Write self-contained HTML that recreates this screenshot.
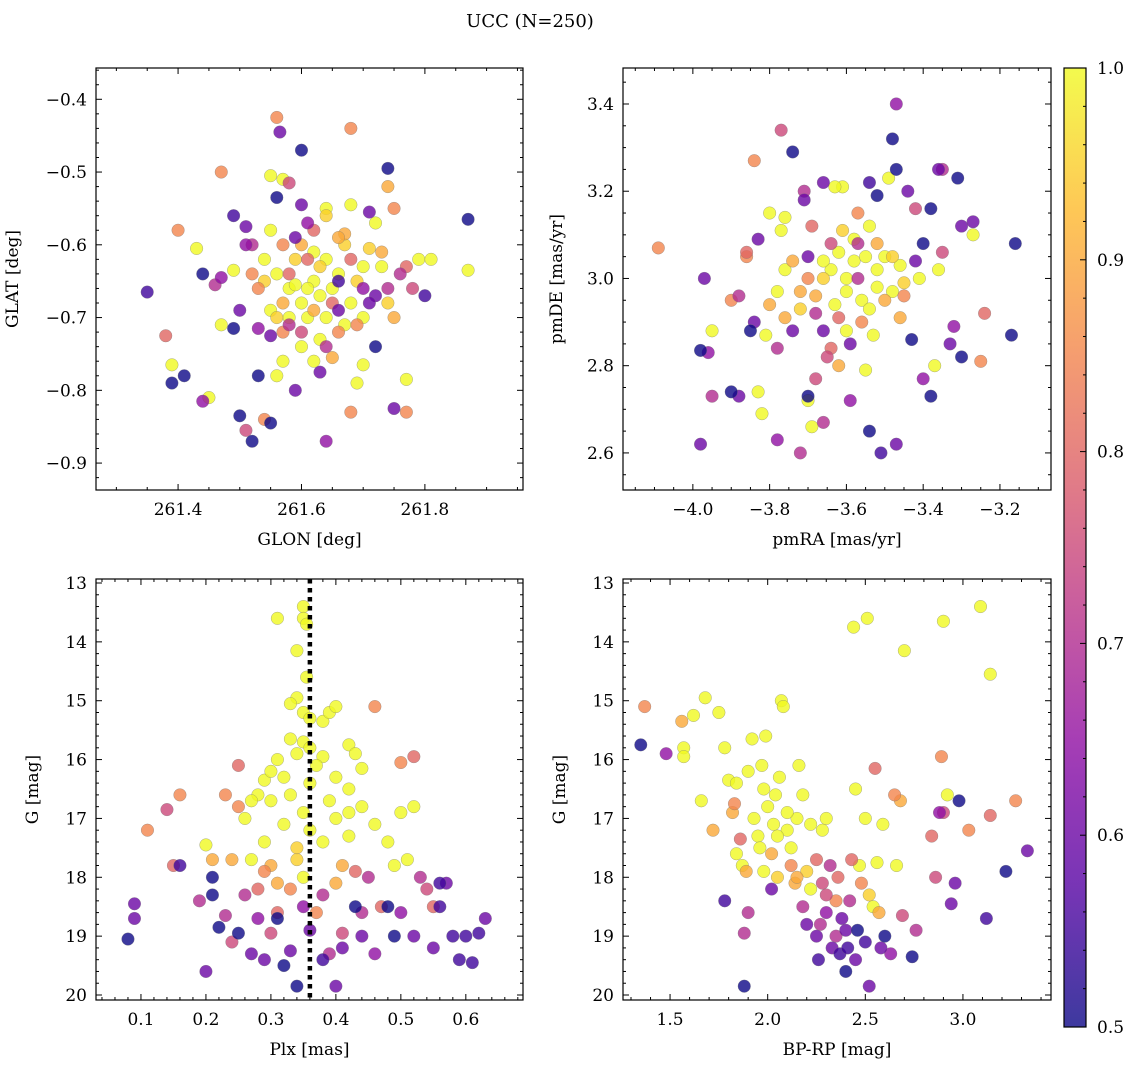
<!DOCTYPE html>
<html><head><meta charset="utf-8"><style>
body{margin:0;background:#fff;}
svg text{font-family:"DejaVu Serif","Liberation Serif",serif;fill:#000;}
</style></head><body>
<svg id="fig" width="1136" height="1067" xmlns="http://www.w3.org/2000/svg">
<text x="530" y="27" font-size="18" text-anchor="middle">UCC (N=250)</text>
</svg>
<script>
// ---- Panel 1: GLON / GLAT ----
const p1x=[261.35,261.38,261.39,261.39,261.41,261.40,261.43,261.44,261.44,261.45,261.46,261.47,261.47,261.47,261.49,261.49,261.49,261.50,261.50,261.51,261.51,261.51,261.52,261.52,261.53,261.53,261.54,261.54,261.55,261.55,261.55,261.56,261.565,261.56,261.56,261.57,261.57,261.58,261.58,261.59,261.59,261.60,261.60,261.61,261.61,261.62,261.63,261.64,261.64,261.64,261.65,261.66,261.66,261.67,261.67,261.68,261.68,261.68,261.69,261.69,261.70,261.70,261.71,261.71,261.72,261.72,261.72,261.73,261.73,261.74,261.74,261.74,261.75,261.75,261.75,261.76,261.77,261.77,261.77,261.78,261.79,261.80,261.81,261.87,261.87,
261.56,261.58,261.60,261.62,261.63,261.61,261.59,261.64,261.65,261.66,261.60,261.62,261.57,261.58,261.64,261.66,261.63,261.60,261.57,261.55,261.54,261.53,261.68,261.69,261.70,261.67,261.61,261.63,261.59,261.62,261.65,261.60,261.57,261.55,261.52,261.71,261.68,261.58,261.64,261.56,261.66,261.70,261.74,261.62];
const p1y=[-0.665,-0.725,-0.765,-0.79,-0.78,-0.58,-0.605,-0.64,-0.815,-0.81,-0.655,-0.645,-0.50,-0.71,-0.56,-0.635,-0.715,-0.69,-0.835,-0.855,-0.60,-0.575,-0.87,-0.60,-0.715,-0.78,-0.84,-0.65,-0.505,-0.845,-0.725,-0.425,-0.445,-0.535,-0.78,-0.51,-0.76,-0.515,-0.71,-0.80,-0.59,-0.47,-0.545,-0.62,-0.57,-0.76,-0.775,-0.87,-0.55,-0.56,-0.755,-0.65,-0.69,-0.60,-0.585,-0.83,-0.44,-0.545,-0.79,-0.71,-0.66,-0.765,-0.555,-0.605,-0.67,-0.74,-0.57,-0.63,-0.61,-0.495,-0.52,-0.66,-0.70,-0.825,-0.55,-0.64,-0.785,-0.83,-0.63,-0.66,-0.62,-0.67,-0.62,-0.565,-0.635,
-0.64,-0.66,-0.68,-0.65,-0.67,-0.70,-0.62,-0.62,-0.66,-0.64,-0.60,-0.61,-0.68,-0.70,-0.70,-0.72,-0.73,-0.74,-0.72,-0.69,-0.62,-0.66,-0.68,-0.65,-0.63,-0.71,-0.66,-0.63,-0.655,-0.69,-0.68,-0.72,-0.60,-0.58,-0.64,-0.68,-0.62,-0.64,-0.74,-0.70,-0.59,-0.70,-0.68,-0.58];
const p1c=[0.55,0.8,1,0.5,0.5,0.85,1,0.5,0.65,1,0.7,0.65,0.85,1,0.55,1,0.5,0.6,0.5,0.75,0.65,0.6,0.5,0.7,0.65,0.5,0.85,0.95,1,0.5,0.6,0.85,0.6,0.5,1,1,1,0.75,0.7,0.6,0.6,0.5,0.6,0.8,0.65,1,0.6,0.65,1,0.95,0.9,0.55,0.6,0.95,0.9,0.85,0.85,1,1,0.85,0.65,1,0.6,0.95,0.6,0.5,1,1,0.9,0.5,0.9,0.7,0.9,0.6,0.85,0.7,1,0.85,0.8,0.75,1,0.55,1,0.5,1,
1,1,1,1,1,1,0.95,1,1,1,0.9,1,0.9,1,1,0.85,1,1,0.85,1,1,0.85,1,0.95,1,1,1,0.95,1,0.9,0.8,0.75,0.85,1,0.85,0.6,0.8,0.8,0.7,0.95,0.9,1,0.95,0.8];
// ---- Panel 2: pmRA / pmDE ----
const p2x=[-4.09,-3.97,-3.98,-3.96,-3.95,-3.95,-3.98,-3.90,-3.88,-3.86,-3.86,-3.84,-3.83,-3.84,-3.85,-3.82,-3.83,-3.81,-3.80,-3.78,-3.77,-3.76,-3.74,-3.72,-3.70,-3.70,-3.69,-3.68,-3.66,-3.66,-3.61,-3.63,-3.59,-3.54,-3.51,-3.52,-3.47,-3.48,-3.47,-3.47,-3.44,-3.42,-3.40,-3.38,-3.36,-3.35,-3.31,-3.30,-3.27,-3.27,-3.24,-3.25,-3.17,-3.16,-3.30,-3.33,-3.32,-3.35,-3.37,-3.38,-3.40,-3.43,-3.46,-3.42,-3.41,-3.45,-3.36,-3.49,-3.57,-3.55,-3.59,-3.62,-3.64,-3.65,-3.72,-3.74,-3.76,-3.78,-3.80,-3.78,-3.74,-3.90,-3.88,-3.77,-3.76,-3.69,-3.71,-3.71,-3.54,-3.57,
-3.6,-3.58,-3.55,-3.52,-3.50,-3.62,-3.64,-3.66,-3.6,-3.56,-3.52,-3.48,-3.54,-3.63,-3.68,-3.66,-3.58,-3.61,-3.5,-3.46,-3.7,-3.68,-3.56,-3.6,-3.53,-3.66,-3.72,-3.62,-3.57,-3.52,-3.48,-3.7,-3.64,-3.54,-3.45];
const p2y=[3.07,3.0,2.835,2.83,2.88,2.73,2.62,2.74,2.73,3.06,3.05,3.27,3.09,2.90,2.88,2.69,2.74,2.87,3.15,2.63,3.34,2.91,3.29,2.60,2.73,2.72,2.66,2.77,2.67,3.22,3.21,3.21,2.72,2.65,2.60,3.19,3.40,3.32,3.25,2.62,3.20,3.16,3.08,3.16,3.25,3.25,3.23,3.12,3.13,3.10,2.92,2.81,2.87,3.08,2.82,2.85,2.89,3.06,2.80,2.73,2.77,2.86,2.91,3.04,3.00,2.96,3.02,3.23,3.15,2.79,2.85,2.80,2.84,2.82,2.97,3.04,3.02,2.97,2.94,2.84,2.88,2.95,2.96,3.11,3.14,3.12,3.18,3.20,3.22,3.08,
3.0,3.04,3.05,3.02,3.05,3.06,3.02,3.0,2.97,2.95,2.98,2.97,2.93,2.94,2.96,3.04,3.09,3.11,2.95,3.03,3.0,2.92,2.9,2.88,2.87,2.88,2.93,2.91,3.0,3.08,3.05,3.05,3.08,3.12,2.99];
const p2c=[0.85,0.6,0.5,0.65,1,0.7,0.6,0.5,0.6,0.8,0.85,0.85,0.6,0.6,0.5,1,1,1,1,0.65,0.75,0.9,0.5,0.7,0.5,1,1,0.75,0.7,0.6,1,1,0.65,0.5,0.55,0.5,0.65,0.5,0.5,0.6,0.6,0.75,0.5,0.5,0.6,0.7,0.5,0.6,0.6,1,0.8,0.85,0.5,0.5,0.5,0.6,0.65,0.75,1,0.5,0.65,0.5,0.9,0.6,1,0.85,1,1,0.85,1,0.6,0.9,0.8,0.75,0.9,0.9,1,1,0.9,0.7,0.6,0.85,0.7,1,1,0.8,0.6,0.7,0.55,0.7,
1,1,1,1,1,1,1,0.95,1,1,1,1,1,1,0.9,1,1,0.95,0.9,1,0.85,0.7,0.85,1,1,0.6,0.95,0.8,0.7,0.9,0.95,0.6,0.75,1,0.95];
// ---- Panel 3: Plx / G ----
const p3x=[0.35,0.35,0.355,0.34,0.355,0.34,0.33,0.35,0.36,0.38,0.39,0.40,0.31,0.46,0.33,0.35,0.34,0.36,0.42,0.43,0.38,0.31,0.29,0.30,0.32,0.36,0.40,0.42,0.44,0.37,0.33,0.28,0.27,0.30,0.35,0.39,0.42,0.44,0.40,0.36,0.32,0.25,0.23,0.26,0.29,0.34,0.38,0.42,0.46,0.48,0.50,0.52,0.50,0.52,0.20,0.21,0.24,0.27,0.30,0.31,0.33,0.35,0.40,0.43,0.45,0.49,0.51,0.53,0.54,0.55,0.56,0.57,0.15,0.16,0.14,0.11,0.16,0.19,0.09,0.09,0.08,0.20,0.21,0.21,0.22,0.23,0.24,0.25,0.26,0.27,0.28,0.29,0.30,0.31,0.32,0.33,0.34,0.35,0.36,0.38,0.39,0.40,0.41,0.41,0.43,0.44,0.46,0.48,0.49,0.50,0.52,0.55,0.56,0.58,0.59,0.60,0.61,0.62,0.63,0.25,0.47,0.37,0.31,0.28,0.44,0.38,0.41,0.34,0.29];
const p3y=[13.4,13.6,13.7,14.15,14.6,14.95,15.05,15.2,15.3,15.35,15.2,15.1,13.6,15.1,15.65,15.7,15.9,15.8,15.75,15.9,15.95,16.0,16.35,16.2,16.3,16.4,16.3,16.5,16.15,16.1,16.6,16.6,16.7,16.7,16.9,16.7,16.9,16.8,17.0,17.2,17.1,16.8,16.6,17.0,17.4,17.5,17.4,17.3,17.1,17.4,16.9,16.8,16.05,15.95,17.45,17.7,17.7,17.7,17.8,18.1,18.2,18.0,18.1,17.9,18.0,17.8,17.7,18.0,18.2,18.5,18.1,18.1,17.8,16.6,16.85,17.2,17.8,18.4,18.45,18.7,19.05,19.6,18.3,18.0,18.85,18.65,19.1,18.95,18.3,19.3,18.7,19.4,18.95,18.7,19.5,19.25,19.85,18.5,18.9,19.4,19.3,19.85,18.95,19.2,18.5,19.0,19.3,18.5,19.0,18.6,19.0,19.2,18.5,19.0,19.4,19.0,19.45,18.95,18.7,16.1,18.5,18.6,18.6,18.2,18.6,18.3,17.8,17.7,17.9];
const p3c=[1,1,1,1,1,1,1,1,1,1,1,1,1,0.85,1,1,1,1,1,1,1,1,1,1,1,1,1,1,1,1,1,1,1,1,1,1,1,1,1,1,1,0.85,0.85,1,1,0.95,1,1,1,1,1,1,0.85,0.8,1,0.9,0.9,1,0.9,0.9,0.85,1,0.9,0.8,0.7,1,1,0.7,0.75,0.8,0.55,0.6,0.8,0.85,0.75,0.85,0.55,0.7,0.6,0.6,0.5,0.6,0.5,0.5,0.5,0.7,0.75,0.5,0.7,0.6,0.65,0.6,0.75,0.5,0.5,0.6,0.5,0.65,0.6,0.55,0.7,0.6,0.75,0.6,0.5,0.6,0.65,0.5,0.5,0.65,0.6,0.6,0.55,0.55,0.55,0.55,0.55,0.55,0.6,0.8,0.8,0.85,0.8,0.8,0.7,0.7,0.9,0.95,0.85];
// ---- Panel 4: BP-RP / G ----
const p4x=[1.35,1.37,1.48,1.56,1.57,1.57,1.62,1.68,1.66,1.72,1.75,1.78,1.80,1.78,1.82,1.83,1.84,1.84,1.86,1.87,1.89,1.88,1.90,1.88,1.90,1.92,1.93,1.95,1.96,1.97,1.98,1.99,2.00,2.02,2.02,2.03,2.04,2.05,2.06,2.07,2.08,2.10,2.12,2.14,2.15,2.16,2.18,2.18,2.20,2.22,2.22,2.25,2.25,2.26,2.27,2.28,2.28,2.30,2.30,2.32,2.33,2.35,2.36,2.37,2.38,2.40,2.41,2.42,2.43,2.44,2.45,2.45,2.46,2.47,2.48,2.50,2.50,2.51,2.52,2.52,2.54,2.55,2.56,2.57,2.58,2.59,2.60,2.63,2.65,2.66,2.68,2.69,2.70,2.74,2.76,2.84,2.86,2.88,2.89,2.90,2.90,2.92,2.94,2.96,2.98,3.03,3.09,3.12,3.14,3.14,3.22,3.27,3.33,2.10,2.05,1.98,2.12,2.2,2.3,2.15,2.35,2.4];
const p4y=[15.75,15.1,15.9,15.35,15.8,15.95,15.25,14.95,16.7,17.2,15.2,15.8,16.35,18.4,16.9,16.75,16.4,17.6,17.35,17.8,17.9,18.95,18.6,19.85,16.2,15.65,17.0,17.3,17.5,16.1,16.5,15.6,16.8,17.6,18.2,17.1,16.6,18.0,16.3,15.0,15.1,17.2,17.8,18.1,17.0,16.1,16.6,18.5,17.9,18.2,17.1,17.7,19.0,19.4,18.8,17.2,18.1,18.6,17.0,17.8,19.2,19.0,18.0,19.3,18.7,19.6,19.2,18.4,17.7,13.75,16.5,19.4,18.9,17.8,18.1,19.1,17.0,13.6,18.3,19.85,18.5,16.15,17.75,18.6,19.2,17.1,19.0,19.3,16.6,17.8,16.7,18.65,14.15,19.35,18.9,17.3,18.0,16.9,15.95,16.9,13.65,16.6,18.45,18.1,16.7,17.2,13.4,18.7,14.55,16.95,17.9,16.7,17.55,16.9,17.3,17.9,17.5,18.8,18.3,18.0,18.4,18.9];
const p4c=[0.5,0.85,0.65,0.9,1,1,1,1,1,0.9,1,1,1,0.55,0.9,0.85,1,1,0.8,1,0.9,0.7,0.7,0.5,1,1,1,1,1,1,1,1,1,0.9,0.6,1,1,0.95,1,1,1,1,0.85,0.9,1,1,1,0.7,0.95,1,1,0.8,0.6,0.55,0.7,1,0.75,0.65,1,0.7,0.6,0.7,0.8,0.55,0.6,0.5,0.55,0.7,0.8,1,1,0.6,0.5,1,0.85,0.55,1,1,0.95,0.6,1,0.8,1,0.9,0.6,1,0.5,0.65,0.85,1,0.9,0.75,1,0.5,0.7,0.8,0.75,0.65,0.85,0.75,1,1,0.6,0.6,0.5,0.85,1,0.55,1,0.8,0.5,0.85,0.6,1,1,1,1,0.6,0.75,0.9,0.85,0.6];

const panels=[
 {name:'glon-glat',xs:p1x,ys:p1y,cs:p1c,L:96,R:523,T:68,B:490,xmin:261.267,xmax:261.959,ymin:-0.937,ymax:-0.357,inv:false,ylo:-78,
  xt:[261.4,261.6,261.8],xtl:['261.4','261.6','261.8'],xm:0.05,yt:[-0.4,-0.5,-0.6,-0.7,-0.8,-0.9],ytl:['\u22120.4','\u22120.5','\u22120.6','\u22120.7','\u22120.8','\u22120.9'],ym:0.02,xl:'GLON [deg]',yl:'GLAT [deg]'},
 {name:'pmra-pmde',xs:p2x,ys:p2y,cs:p2c,L:623,R:1051,T:68,B:490,xmin:-4.182,xmax:-3.067,ymin:2.515,ymax:3.4825,inv:false,ylo:-61,
  xt:[-4.0,-3.8,-3.6,-3.4,-3.2],xtl:['\u22124.0','\u22123.8','\u22123.6','\u22123.4','\u22123.2'],xm:0.05,yt:[2.6,2.8,3.0,3.2,3.4],ytl:['2.6','2.8','3.0','3.2','3.4'],ym:0.05,xl:'pmRA [mas/yr]',yl:'pmDE [mas/yr]'},
 {name:'plx-g',xs:p3x,ys:p3y,cs:p3c,L:96,R:523,T:579,B:1000,xmin:0.0308,xmax:0.688,ymin:12.932,ymax:20.085,inv:true,ylo:-58,
  xt:[0.1,0.2,0.3,0.4,0.5,0.6],xtl:['0.1','0.2','0.3','0.4','0.5','0.6'],xm:0.02,yt:[13,14,15,16,17,18,19,20],ytl:['13','14','15','16','17','18','19','20'],ym:0.2,xl:'Plx [mas]',yl:'G [mag]',vline:0.36},
 {name:'bprp-g',xs:p4x,ys:p4y,cs:p4c,L:623,R:1051,T:579,B:1000,xmin:1.259,xmax:3.451,ymin:12.932,ymax:20.085,inv:true,ylo:-58,
  xt:[1.5,2.0,2.5,3.0],xtl:['1.5','2.0','2.5','3.0'],xm:0.1,yt:[13,14,15,16,17,18,19,20],ytl:['13','14','15','16','17','18','19','20'],ym:0.2,xl:'BP-RP [mag]',yl:'G [mag]'}
];
const NS='http://www.w3.org/2000/svg';
const svg=document.getElementById('fig');
function mk(tag,at,parent){const e=document.createElementNS(NS,tag);for(const k in at)e.setAttribute(k,at[k]);(parent||svg).appendChild(e);return e;}
const st2=[[0,[13,8,135]],[0.143,[84,2,163]],[0.286,[139,10,165]],[0.429,[185,50,137]],[0.571,[219,92,104]],[0.714,[244,136,73]],[0.857,[254,188,43]],[1,[240,249,33]]];
function plasma(v){let t=Math.max(0,Math.min(1,(v-0.5)/0.5));for(let i=0;i<st2.length-1;i++){const a=st2[i],b=st2[i+1];if(t<=b[0]){const f=(t-a[0])/(b[0]-a[0]);const c=a[1].map((x,j)=>Math.round(x+(b[1][j]-x)*f));return 'rgb('+c.join(',')+')';}}return 'rgb(240,249,33)';}
panels.forEach(p=>{
 const g=mk('g',{});
 
 
 const sx=v=>p.L+(v-p.xmin)/(p.xmax-p.xmin)*(p.R-p.L);
 const sy=v=>p.inv?p.T+(v-p.ymin)/(p.ymax-p.ymin)*(p.B-p.T):p.B-(v-p.ymin)/(p.ymax-p.ymin)*(p.B-p.T);
 const cp=mk('clipPath',{id:'c'+p.name},g);mk('rect',{x:p.L,y:p.T,width:p.R-p.L,height:p.B-p.T},cp);
 const pts=mk('g',{'clip-path':'url(#c'+p.name+')'},g);
 
 
 const idx=p.cs.map((c,i)=>i).sort((a,b)=>p.cs[b]-p.cs[a]);
 idx.forEach(i=>{const c=mk('circle',{cx:sx(p.xs[i]),cy:sy(p.ys[i]),r:6.3,fill:plasma(p.cs[i]),'fill-opacity':0.8,stroke:'#777','stroke-width':0.5,'stroke-opacity':0.6},pts);
  
  });
 if(p.vline!==undefined){const l=mk('line',{x1:sx(p.vline),x2:sx(p.vline),y1:p.T,y2:p.B,stroke:'#000','stroke-width':4.5,'stroke-dasharray':'4.5 4.5'},g);
  
  }
 const tk=mk('g',{stroke:'#000','stroke-width':1},g);
 const x0=Math.ceil(p.xmin/p.xm-1e-6);for(let k=x0;k*p.xm<=p.xmax;k++){const v=k*p.xm,X=sx(v);const maj=p.xt.some(t=>Math.abs(t-v)<1e-6);const len=maj?6:3;
  mk('line',{x1:X,x2:X,y1:p.B,y2:p.B-len},tk);mk('line',{x1:X,x2:X,y1:p.T,y2:p.T+len},tk);}
 const y0=Math.ceil(p.ymin/p.ym-1e-6);for(let k=y0;k*p.ym<=p.ymax;k++){const v=k*p.ym,Y=sy(v);const maj=p.yt.some(t=>Math.abs(t-v)<1e-6);const len=maj?6:3;
  mk('line',{x1:p.L,x2:p.L+len,y1:Y,y2:Y},tk);mk('line',{x1:p.R,x2:p.R-len,y1:Y,y2:Y},tk);}
 p.xt.forEach((v,i)=>{const t=mk('text',{x:sx(v),y:p.B+25,'font-size':17,'text-anchor':'middle'},g);t.textContent=p.xtl[i];
  
  });
 p.yt.forEach((v,i)=>{const t=mk('text',{x:p.L-9,y:sy(v)+6,'font-size':17,'text-anchor':'end'},g);t.textContent=p.ytl[i];
  
  });
 const xl=mk('text',{x:(p.L+p.R)/2,y:p.B+55,'font-size':17,'text-anchor':'middle'},g);xl.textContent=p.xl;
 
 
 const yx=p.L+p.ylo,yy=(p.T+p.B)/2;
 const yl=mk('text',{x:yx,y:yy,'font-size':17,'text-anchor':'middle',transform:'rotate(-90 '+yx+' '+yy+')'},g);yl.textContent=p.yl;
 
 
 mk('rect',{x:p.L,y:p.T,width:p.R-p.L,height:p.B-p.T,fill:'none',stroke:'#000','stroke-width':1.2},g);
});
// colorbar
const cbTicks=[0.5,0.6,0.7,0.8,0.9,1.0];
const cb=mk('g',{});


const CL=1064,CR=1086,CT=68,CB=1027;
const grad=mk('linearGradient',{id:'cbg',x1:0,y1:1,x2:0,y2:0},mk('defs',{},cb));
for(let i=0;i<=20;i++){const v=0.5+i*0.025;mk('stop',{offset:i/20,'stop-color':plasma(v),'stop-opacity':0.8},grad);}
mk('rect',{x:CL,y:CT,width:CR-CL,height:CB-CT,fill:'url(#cbg)',stroke:'#000','stroke-width':1.2},cb);
const cy=v=>CB-(v-0.5)/0.5*(CB-CT);
for(let k=25;k<=50;k++){const v=k*0.02;const maj=k%5==0;mk('line',{x1:CR,x2:CR-(maj?6:3),y1:cy(v),y2:cy(v),stroke:'#000'},cb);}
cbTicks.forEach(v=>{const t=mk('text',{x:CR+11,y:cy(v)+6,'font-size':17},cb);t.textContent=v.toFixed(1);
 
 });
</script>
</body></html>
